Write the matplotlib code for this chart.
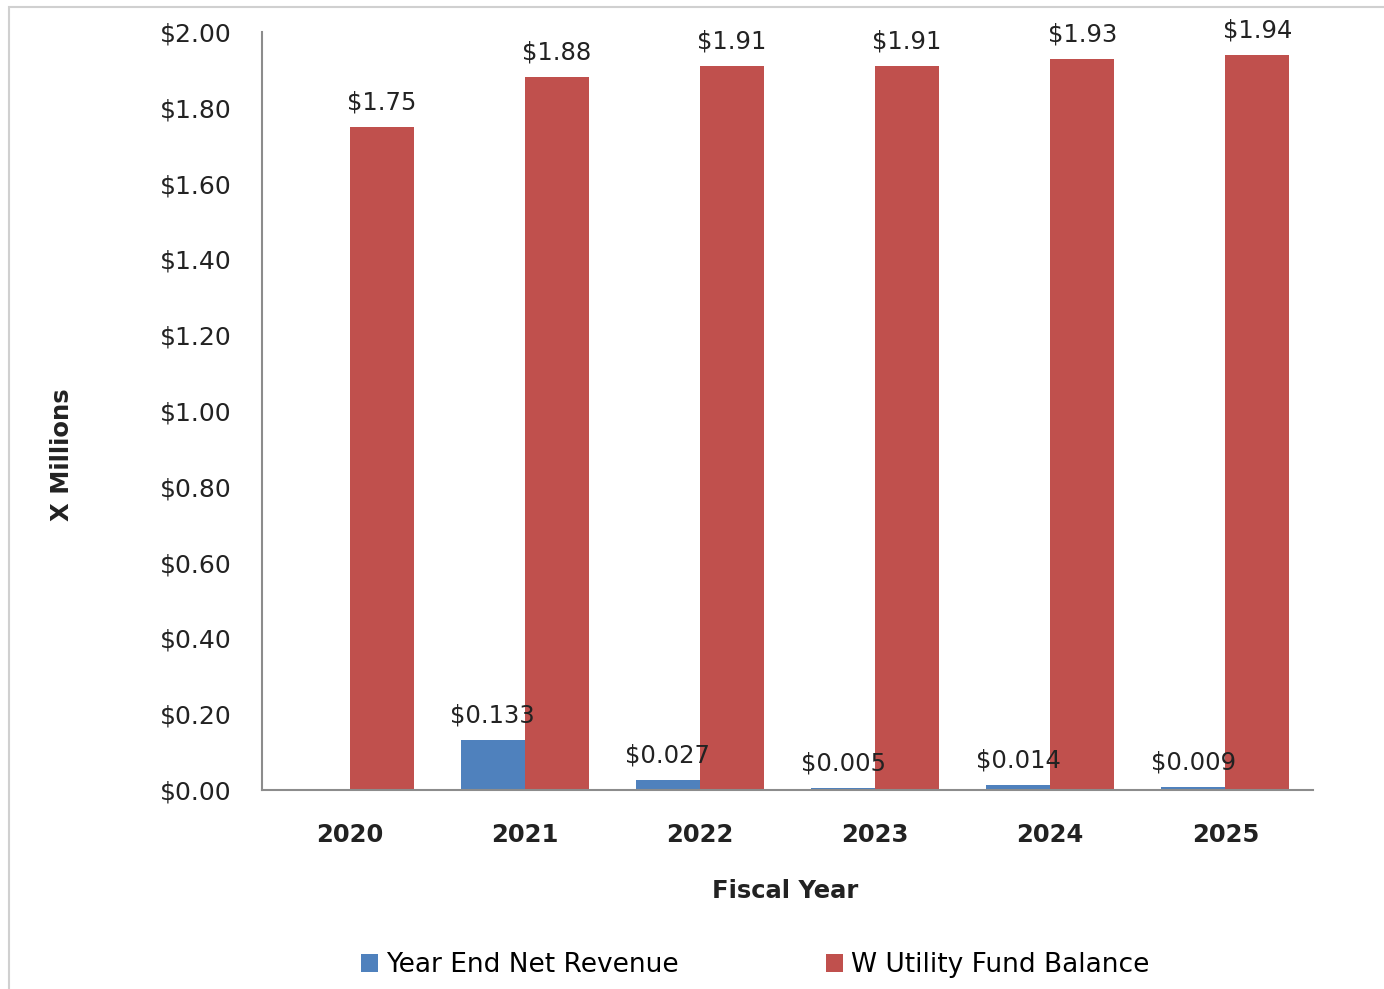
import matplotlib
matplotlib.use("Agg")
import matplotlib.pyplot as plt
from matplotlib.patches import Rectangle
import numpy as np

years = ["2020", "2021", "2022", "2023", "2024", "2025"]
net_revenue = [np.nan, 0.133, 0.027, 0.005, 0.014, 0.009]
net_revenue_labels = ["", "$0.133", "$0.027", "$0.005", "$0.014", "$0.009"]
fund_balance = [1.75, 1.88, 1.91, 1.91, 1.93, 1.94]
fund_balance_labels = ["$1.75", "$1.88", "$1.91", "$1.91", "$1.93", "$1.94"]
y_ticks = [0.0, 0.2, 0.4, 0.6, 0.8, 1.0, 1.2, 1.4, 1.6, 1.8, 2.0]
series_names = ["Year End Net Revenue", "W Utility Fund Balance"]

BLUE = "#4F81BD"
RED = "#C0504D"
FONT = "DejaVu Sans"
FS = 17.5
TC = "#222222"

W, H = 1384, 989
fig = plt.figure(figsize=(W / 100, H / 100), dpi=100)
ax = fig.add_axes([262 / W, 1 - 790 / H, (1313 - 262) / W, (790 - 32) / H])

x = np.arange(len(years))
bw = 0.365
b1 = ax.bar(x - bw / 2, net_revenue, bw, color=BLUE, label=series_names[0])
b2 = ax.bar(x + bw / 2, fund_balance, bw, color=RED, label=series_names[1])

for rect, lab in zip(b1, net_revenue_labels):
    if lab:
        ax.annotate(lab, (rect.get_x() + rect.get_width() / 2, rect.get_height()),
                    xytext=(0, 9), textcoords="offset points", ha="center", va="bottom",
                    fontsize=FS, family=FONT, color=TC)
for rect, lab in zip(b2, fund_balance_labels):
    ax.annotate(lab, (rect.get_x() + rect.get_width() / 2, rect.get_height()),
                xytext=(0, 9), textcoords="offset points", ha="center", va="bottom",
                fontsize=FS, family=FONT, color=TC)

ax.set_xlim(-0.5, len(years) - 0.5)
ax.set_ylim(0, 2.0)
ax.set_yticks(y_ticks)
ax.set_yticklabels([f"${v:.2f}" for v in y_ticks], fontsize=18, family=FONT, color=TC)
ax.set_xticks(x)
ax.set_xticklabels(years, fontsize=FS, family=FONT, fontweight="bold", color=TC)
ax.tick_params(axis="y", length=0, pad=22)
ax.tick_params(axis="x", length=0, pad=24)
for s in ["top", "right"]:
    ax.spines[s].set_visible(False)
ax.spines["left"].set_color("#8c8c8c")
ax.spines["bottom"].set_color("#8c8c8c")
ax.spines["left"].set_linewidth(1.5)
ax.spines["bottom"].set_linewidth(1.5)

fig.text(62 / W, 1 - 455 / H, "X Millions", rotation=90, ha="center", va="center",
         fontsize=FS, family=FONT, fontweight="bold", color=TC)
fig.text(785 / W, 1 - 891 / H, "Fiscal Year", ha="center", va="center",
         fontsize=FS, family=FONT, fontweight="bold", color=TC)

leg = fig.legend(handles=[b1, b2], labels=series_names, loc="center",
                 bbox_to_anchor=(755 / W, 1 - 965 / H), ncol=2, frameon=False,
                 prop={"family": FONT, "size": 19}, handlelength=0.65, handleheight=0.65,
                 handletextpad=0.3, columnspacing=5.6)

fig.patches.append(Rectangle((9 / W, -0.01), 1.1, 1 - 7 / H + 0.01, transform=fig.transFigure,
                             fill=False, edgecolor="#d0d0d0", linewidth=1.5))

fig.savefig("out.png", dpi=100)
